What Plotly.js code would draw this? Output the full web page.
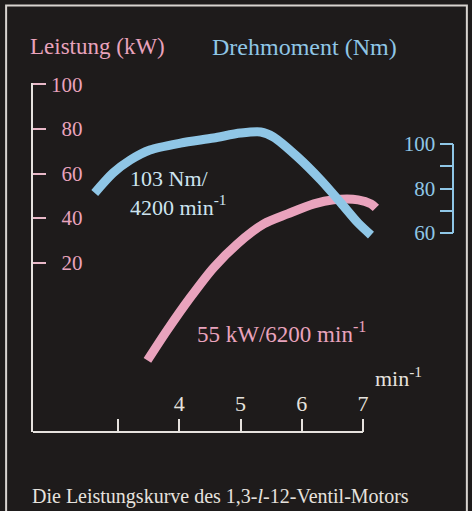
<!DOCTYPE html>
<html>
<head>
<meta charset="utf-8">
<script src="https://cdn.plot.ly/plotly-3.0.1.min.js"></script>
<style>
  html, body { margin: 0; padding: 0; background: #1e1b1b; }
  #chart { width: 472px; height: 511px; }
</style>
</head>
<body>
<div id="chart"></div>
<script>
// Engine speed (x 1000 min^-1) as drawn in the picture
const torqueRpm = [2.62, 2.92, 3.20, 3.52, 4.02, 4.56, 5.00, 5.33, 5.54, 5.93, 6.31, 6.64, 6.92, 7.13];
// Torque (Nm), right axis
const torqueNm  = [78.0, 87.0, 92.8, 97.3, 100.4, 102.7, 104.9, 105.4, 103.1, 94.2, 83.8, 73.5, 64.5, 59.1];

const powerRpm  = [3.48, 3.80, 4.18, 4.56, 4.95, 5.38, 5.77, 6.20, 6.52, 6.92, 7.13, 7.21];
// Power (kW), left axis
const powerKw   = [-23.8, -10.4, 4.4, 17.8, 28.5, 37.4, 41.9, 46.4, 48.2, 48.2, 46.4, 44.6];

const xTickVals   = [3, 4, 5, 6, 7];
const xTickText   = ['', '4', '5', '6', '7'];
const kwTickVals  = [20, 40, 60, 80, 100];
const nmTickVals  = [60, 70, 80, 90, 100];
const nmTickText  = ['60', '', '80', '', '100'];

const PINK = '#e9a3bd';
const BLUE = '#8fc6e6';
const WHITE = '#e6e2de';
const BG = '#1e1b1b';
const SERIF = '"Liberation Serif", "DejaVu Serif", serif';

const traces = [
  {
    x: torqueRpm, y: torqueNm, yaxis: 'y2', type: 'scatter', mode: 'lines',
    line: { color: BLUE, width: 9, shape: 'spline', smoothing: 0.8 },
    hoverinfo: 'skip'
  },
  {
    x: powerRpm, y: powerKw, yaxis: 'y', type: 'scatter', mode: 'lines',
    line: { color: PINK, width: 9, shape: 'spline', smoothing: 0.8 },
    hoverinfo: 'skip'
  },
  // carrier for the left-hand kW tick labels axis
  { x: [null], y: [null], yaxis: 'y3', type: 'scatter', mode: 'lines', hoverinfo: 'skip' }
];

const layout = {
  width: 472, height: 511,
  margin: { l: 33, r: 19, t: 83, b: 79 },
  paper_bgcolor: BG, plot_bgcolor: BG,
  showlegend: false,
  font: { family: SERIF, color: WHITE, size: 20 },
  xaxis: {
    range: [1.612, 8.469], showgrid: false, zeroline: false, showline: false,
    tickvals: xTickVals, ticktext: xTickText,
    ticks: 'inside', ticklen: 13, tickwidth: 2, tickcolor: WHITE,
    ticklabelposition: 'inside', ticklabelstandoff: 5,
    tickfont: { family: SERIF, size: 22, color: WHITE }
  },
  yaxis: {
    range: [-55.9, 100.6], showgrid: false, zeroline: false,
    showline: true, linecolor: WHITE, linewidth: 2,
    tickvals: kwTickVals, showticklabels: false,
    ticks: 'inside', ticklen: 13, tickwidth: 2, tickcolor: '#e8b8c8'
  },
  yaxis3: {
    overlaying: 'y', anchor: 'free', side: 'left', position: 0.118,
    range: [-55.9, 100.6], showgrid: false, zeroline: false, showline: false,
    tickvals: kwTickVals, ticks: '',
    tickfont: { family: SERIF, size: 21, color: PINK }
  },
  yaxis2: {
    overlaying: 'y', side: 'right', anchor: 'x',
    range: [-29.4, 127.4], showgrid: false, zeroline: false, showline: false,
    tickvals: nmTickVals, ticktext: nmTickText,
    ticks: 'inside', ticklen: 13, tickwidth: 2, tickcolor: BLUE,
    ticklabelposition: 'inside', ticklabelstandoff: 6,
    tickfont: { family: SERIF, size: 21, color: BLUE }
  },
  shapes: [
    // outer frame
    { type: 'rect', xref: 'paper', yref: 'paper', x0: -0.064, x1: 1.033, y0: -0.4, y1: 1.222,
      line: { color: '#d8d4d0', width: 2 } },
    // x axis line (from left axis up to 7)
    { type: 'line', xref: 'x', yref: 'paper', x0: 1.612, x1: 7, y0: 0, y1: 0,
      line: { color: WHITE, width: 2 } },
    // right axis line 60..100 Nm
    { type: 'line', xref: 'paper', yref: 'y2', x0: 1, x1: 1, y0: 60, y1: 100,
      line: { color: BLUE, width: 2 } }
  ],
  annotations: [
    { text: 'Leistung (kW)', xref: 'paper', yref: 'paper', x: -0.012, y: 1.104,
      xanchor: 'left', yanchor: 'middle', showarrow: false, font: { size: 23, color: PINK } },
    { text: 'Drehmoment (Nm)', xref: 'paper', yref: 'paper', x: 0.421, y: 1.104,
      xanchor: 'left', yanchor: 'middle', showarrow: false, font: { size: 24, color: BLUE } },
    { text: '103 Nm/<br>4200 min<sup>-1</sup>', xref: 'paper', yref: 'paper', x: 0.225, y: 0.685,
      xanchor: 'left', yanchor: 'middle', align: 'left', showarrow: false,
      font: { size: 22, color: '#cde4f0' } },
    { text: '55 kW/6200 min<sup>-1</sup>', xref: 'paper', yref: 'paper', x: 0.386, y: 0.2865,
      xanchor: 'left', yanchor: 'middle', showarrow: false, font: { size: 23, color: PINK } },
    { text: 'min<sup>-1</sup>', xref: 'paper', yref: 'paper', x: 0.81, y: 0.158,
      xanchor: 'left', yanchor: 'middle', showarrow: false, font: { size: 22, color: WHITE } },
    { text: 'Die Leistungskurve des 1,3-<i>l</i>-12-Ventil-Motors', xref: 'paper', yref: 'paper',
      x: -0.007, y: -0.186, xanchor: 'left', yanchor: 'middle', showarrow: false,
      font: { size: 20, color: WHITE } }
  ]
};

Plotly.newPlot('chart', traces, layout, { displayModeBar: false, staticPlot: true });
</script>
</body>
</html>
